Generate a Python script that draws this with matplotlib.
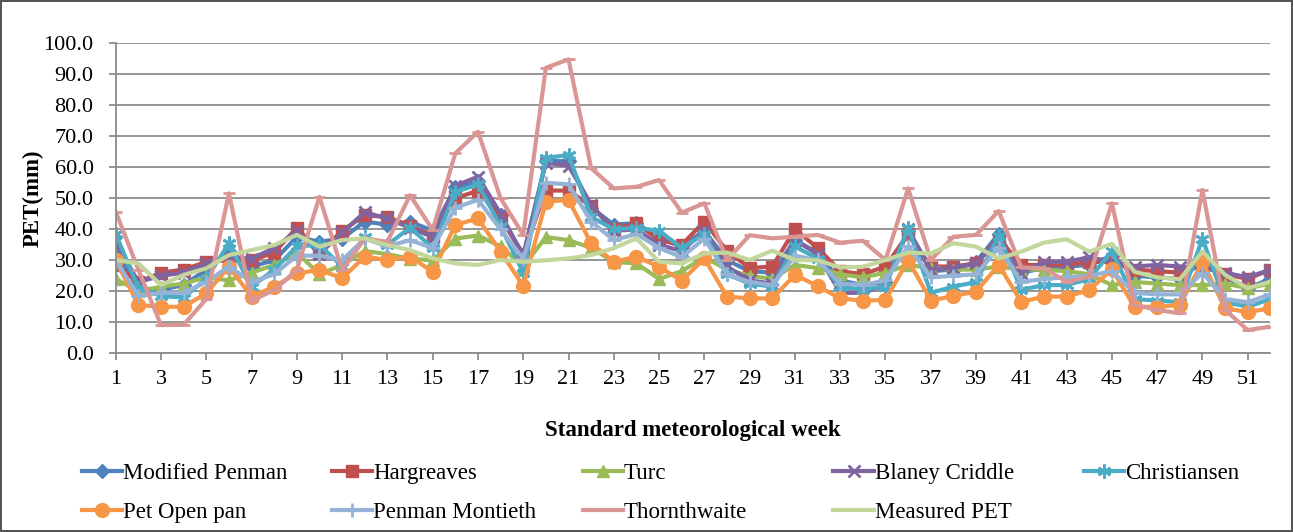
import matplotlib
matplotlib.use("Agg")
import matplotlib.pyplot as plt
import numpy as np

plt.rcParams['font.family'] = ['Liberation Serif', 'DejaVu Serif']

weeks = list(range(1, 53))

modified_penman = [33, 21, 20.5, 22, 27, 33, 28, 30, 37.5, 36, 37, 42.5, 41.5, 42.5, 39.5, 53.5, 55.5, 44.5, 31.5, 62,
                   62, 47, 41.5, 42, 37, 34.5, 39.5, 30, 26.5, 26, 36.5, 32.5, 23.5, 22, 23, 39.5, 26.5, 27, 29.5, 38.5,
                   26, 27.5, 28, 28.5, 31.5, 25, 24.5, 24, 29.5, 24.5, 21, 24]
hargreaves = [28.5, 23, 26, 27, 29.5, 30, 30, 32.5, 40.5, 32.5, 39.5, 44.5, 44, 41, 38, 50, 52.5, 43.5, 32, 52.5,
              52.5, 47.5, 40, 42, 36.5, 35, 42.5, 33, 27.5, 28, 40, 34, 26.5, 25.5, 28, 38.5, 28, 28, 29, 37,
              28.5, 28.5, 28.5, 29.5, 29.5, 27, 26.5, 26, 29.5, 25.5, 24, 27]
turc = [24, 20, 21.5, 22.5, 24.5, 23.5, 26, 28.5, 32.5, 25.5, 28.5, 33, 32, 30.5, 30, 37, 38, 34.5, 28, 37.5,
        36.5, 34, 29.5, 29, 24, 26.5, 31, 27, 25, 24, 28.5, 27.5, 25.5, 24.5, 26, 28.5, 27.5, 27, 27, 28,
        27, 27, 26.5, 25.5, 22, 23, 22.5, 22, 22, 22.5, 21, 22.5]
blaney_criddle = [36, 23, 25, 26, 29, 31, 30.5, 34, 39.5, 32, 39, 45.5, 43.5, 40.5, 37.5, 54, 57, 45, 31.5, 61.5,
                  60.5, 48, 39.5, 40, 35, 33, 39.5, 28, 23.5, 22.5, 36.5, 32, 19.5, 19.5, 22, 40, 27, 27.5, 29, 36.5,
                  26, 29.5, 29.5, 31, 29.5, 28, 28.5, 28, 27.5, 26, 24.5, 27]
christiansen = [38.5, 21, 18.5, 18, 24, 35.5, 21.5, 27, 34.5, 35, 28, 37.5, 35, 40.5, 34, 52, 54.5, 41, 26, 63,
                64, 44, 40, 40.5, 39.5, 34, 38.5, 25.5, 22.5, 21.5, 34.5, 30.5, 21.5, 20.5, 21.5, 40.5, 19.5, 21.5, 23, 38,
                20.5, 22, 22, 24, 33, 17.5, 17, 16.5, 37, 16.5, 15, 17.5]
pet_open_pan = [30, 15.6, 15, 15, 19.4, 27.9, 18.3, 21.5, 25.8, 26.9, 24.2, 31.2, 30.1, 31.2, 26.3, 41.4, 43.5, 32.8, 21.7, 48.9,
                49.5, 35.5, 29.5, 31.2, 27.9, 23.4, 30.6, 18.3, 17.7, 17.7, 25.3, 21.7, 17.7, 17, 17.2, 30.1, 17, 18.5, 19.9, 28.5,
                16.6, 18.3, 18.3, 20.4, 27.1, 15, 15, 15.6, 29.5, 14.5, 13.3, 14.5]
penman_montieth = [30, 18.5, 19.5, 19.5, 23, 28, 23, 25.5, 31.5, 31.5, 30, 37, 34.5, 36.5, 34, 47, 49.5, 40, 30.5, 55,
                   54.5, 42.5, 36.5, 38.5, 34, 31, 37, 25.5, 23, 22, 31.5, 30, 22.5, 22, 23.5, 34.5, 24.5, 25, 25.5, 34,
                   23, 24, 24.5, 25, 26.5, 19.5, 19, 19, 26, 17.5, 16.5, 19]
thornthwaite = [45.7, 27, 9.1, 9.2, 17.5, 51.6, 17, 20.4, 26.9, 50.5, 26.9, 37, 36, 51, 39.8, 64.5, 71.5, 50, 38.2, 92.1,
                94.8, 59.7, 53.2, 53.7, 55.9, 45.4, 48.4, 30.1, 38.1, 37.1, 37.6, 38.2, 35.7, 36.3, 30.1, 53.2, 30.1, 37.6, 38.2, 45.9,
                27.7, 27.4, 23.1, 24.7, 48.4, 15.6, 14, 12.9, 52.7, 14, 7.5, 8.6]
measured_pet = [30.1, 29, 22, 25.3, 27.4, 31.7, 33.3, 34.9, 38.2, 34.4, 36.5, 37.1, 34.9, 33.3, 30.6, 29, 28.5, 30.1, 29.5, 30,
                30.6, 31.7, 33.9, 37.1, 29.5, 29, 32.2, 32.5, 30.1, 33.1, 30.1, 30, 27.7, 27.9, 30.1, 32.5, 32.2, 35.5, 34.4, 30.6,
                32.8, 35.7, 36.8, 32.8, 35.3, 26.3, 24.5, 23.9, 32.8, 25.3, 21, 23.1]

series = [
    ("Modified Penman", modified_penman, "#4F81BD", "D", 7),
    ("Hargreaves", hargreaves, "#C0504D", "s", 8),
    ("Turc", turc, "#9BBB59", "^", 9),
    ("Blaney Criddle", blaney_criddle, "#8064A2", "x", 8),
    ("Christiansen", christiansen, "#4BACC6", (6, 2, 0), 10),
    ("Pet Open pan", pet_open_pan, "#F79646", "o", 10),
    ("Penman Montieth", penman_montieth, "#95B3D7", "+", 10),
    ("Thornthwaite", thornthwaite, "#D99694", "_", 9),
    ("Measured PET", measured_pet, "#C3D69B", "None", 0),
]

fig = plt.figure(figsize=(12.93, 5.32), dpi=100)
fig.patch.set_edgecolor('#555555')
fig.patch.set_linewidth(1.5)
ax = fig.add_axes([0.0895, 0.3359, 0.8930, 0.5827])

handles = []
for name, vals, col, mk, ms in series:
    thin = mk in ("x", "+", "_") or isinstance(mk, tuple)
    ln, = ax.plot(weeks, vals, color=col, lw=3, marker=mk, markersize=ms,
                  markeredgecolor=col, markerfacecolor=col, markeredgewidth=2 if thin else 1,
                  label=name)
    handles.append(ln)

ax.set_xlim(1, 52)
ax.set_ylim(0, 100)
ax.set_yticks(np.arange(0, 101, 10))
ax.set_yticklabels(["%.1f" % v for v in np.arange(0, 101, 10)])
ax.set_xticks(range(1, 53, 2))
ax.yaxis.grid(True, color='#8c8c8c', lw=1.3)
ax.set_axisbelow(True)
for s in ['top', 'right']:
    ax.spines[s].set_visible(False)
for s in ['left', 'bottom']:
    ax.spines[s].set_color('#8c8c8c')
    ax.spines[s].set_linewidth(1.3)
ax.tick_params(axis='both', colors='#8c8c8c', labelcolor='black', labelsize=16, length=5, width=1.3)
ax.tick_params(axis='x', pad=7)
ax.tick_params(axis='y', pad=11)

ax.set_ylabel("PET(mm)", fontsize=16.5, fontweight='bold', labelpad=0)
ax.set_xlabel("Standard meteorological week", fontsize=16.5, fontweight='bold', labelpad=22)

col_x = [0.0565, 0.2495, 0.4435, 0.6375, 0.8315]
for c in range(5):
    hs = [handles[c]] + ([handles[c + 5]] if c + 5 < len(handles) else [])
    fig.legend(handles=hs, loc='upper left', bbox_to_anchor=(col_x[c], 0.147), frameon=False,
               fontsize=16.5, handlelength=1.75, handletextpad=0.05, labelspacing=0.8, borderaxespad=0)

fig.savefig("out.png", dpi=100)
